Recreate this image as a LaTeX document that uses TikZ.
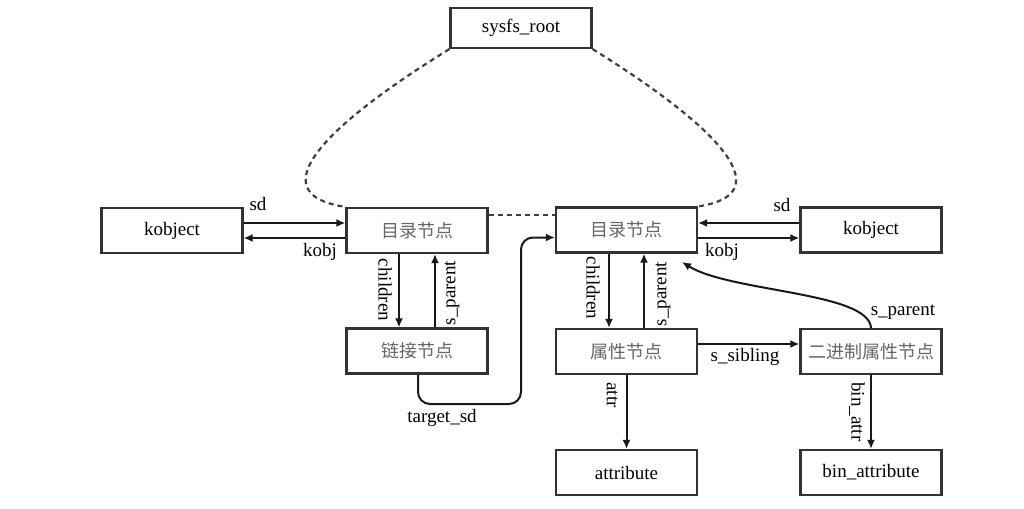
\documentclass[tikz,border=0pt]{standalone}
\usepackage{fontspec}
\setmainfont{Liberation Serif}
\newfontfamily\cjk{Noto Sans CJK SC}
\usetikzlibrary{arrows.meta}
\tikzset{
  box/.style={draw=black!80, line width=2.2pt, minimum width=141pt, minimum height=45pt, inner sep=0pt, font=\fontsize{19}{22}\selectfont},
  cbox/.style={box, font=\cjk\fontsize{18}{22}\selectfont, text=black!60},
  arr/.style={draw=black!90, line width=2pt, -{Latex[length=9pt,width=8pt]}},
  dsh/.style={draw=black!75, line width=2.2pt, dash pattern=on 5pt off 4pt},
  lbl/.style={font=\fontsize{19}{22}\selectfont, inner sep=0pt}
}
\begin{document}
\begin{tikzpicture}[x=1pt,y=-1pt]
\useasboundingbox (0,0) rectangle (1024,508);
% nodes
\node[box, minimum height=40pt] (root) at (521,28) {sysfs\_root};
\node[box] (kobjL) at (172,230.5) {kobject};
\node[cbox] (dirL) at (417,230.5) {目录节点};
\node[cbox] (linkN) at (417,351) {链接节点};
\node[cbox] (dirR) at (626.5,230) {目录节点};
\node[box] (kobjR) at (871,230) {kobject};
\node[cbox] (attrN) at (626.5,351.5) {属性节点};
\node[cbox] (binN) at (871,351.5) {二进制属性节点};
\node[box] (attrib) at (626.5,472.5) {attribute};
\node[box] (binattr) at (871,472.5) {bin\_attribute};
\coordinate (tsd) at (521,404);
\coordinate (spend) at (682,262);
% dashed links to root
\draw[dsh] (root.south west) .. controls (310,135) and (265,195) .. (dirL.north west);
\draw[dsh] (root.south east) .. controls (731,135) and (776,195) .. (dirR.north east);
\draw[dsh] ([yshift=15.5pt]dirL.east) -- ([yshift=15pt]dirR.west);
% left kobject
\draw[arr] ([yshift=7.5pt]kobjL.east) -- ([yshift=7.5pt]dirL.west);
\draw[arr] ([yshift=-7.5pt]dirL.west) -- ([yshift=-7.5pt]kobjL.east);
\node[lbl] at (258,204) {sd};
\node[lbl] at (320,252) {kobj};
% left children / parent
\draw[arr] ([xshift=-18pt]dirL.south) -- ([xshift=-18pt]linkN.north);
\draw[arr] ([xshift=18pt]linkN.north) -- ([xshift=18pt]dirL.south);
\node[lbl, rotate=-90] at (385,290) {children};
\node[lbl, rotate=90] at (452,293) {s\_parent};
% target_sd
\draw[arr, rounded corners=12pt] ([xshift=1pt]linkN.south) |- (tsd) |- ([yshift=-7.5pt]dirR.west);
\node[lbl] at (442,418) {target\_sd};
% right kobject
\draw[arr] ([yshift=7pt]kobjR.west) -- ([yshift=7pt]dirR.east);
\draw[arr] ([yshift=-8pt]dirR.east) -- ([yshift=-8pt]kobjR.west);
\node[lbl] at (782,205) {sd};
\node[lbl] at (722,252) {kobj};
% right children / parent
\draw[arr] ([xshift=-17.5pt]dirR.south) -- ([xshift=-17.5pt]attrN.north);
\draw[arr] ([xshift=17.5pt]attrN.north) -- ([xshift=17.5pt]dirR.south);
\node[lbl, rotate=-90] at (593,288) {children};
\node[lbl, rotate=90] at (663,294) {s\_parent};
% sibling
\draw[arr] ([yshift=7.5pt]attrN.east) -- ([yshift=7.5pt]binN.west);
\node[lbl] at (745,357) {s\_sibling};
% s_parent curve
\draw[arr] (binN.north) .. controls (869,292) and (730,292) .. (spend);
\node[lbl] at (903,312) {s\_parent};
% attr
\draw[arr] (attrN.south) -- (attrib.north);
\node[lbl, rotate=-90] at (612,395) {attr};
\draw[arr] (binN.south) -- (binattr.north);
\node[lbl, rotate=-90] at (857,412) {bin\_attr};
\end{tikzpicture}
\end{document}
